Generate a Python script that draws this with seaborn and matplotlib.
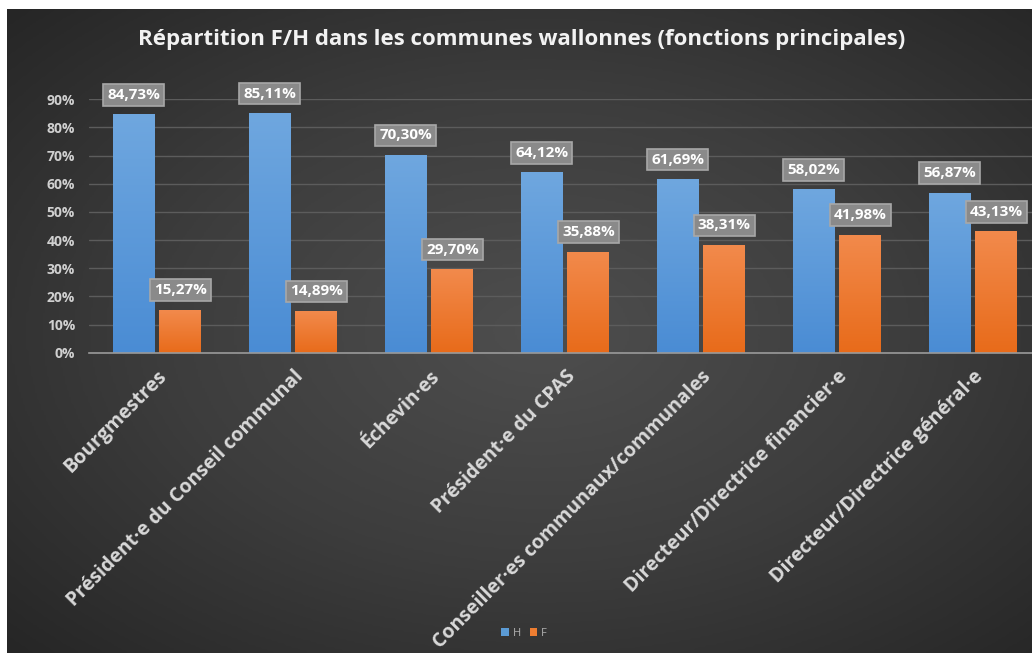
import numpy as np
import pandas as pd
import matplotlib
matplotlib.use("Agg")
import matplotlib.pyplot as plt
import seaborn as sns
from matplotlib.colors import LinearSegmentedColormap
from matplotlib.patches import Patch

categories = ["Bourgmestres", "Président·e du Conseil communal", "Échevin·es",
              "Président·e du CPAS", "Conseiller·es communaux/communales",
              "Directeur/Directrice financier·e", "Directeur/Directrice général·e"]
h_values = [84.73, 85.11, 70.30, 64.12, 61.69, 58.02, 56.87]
f_values = [15.27, 14.89, 29.70, 35.88, 38.31, 41.98, 43.13]
y_ticks = [0, 10, 20, 30, 40, 50, 60, 70, 80, 90]
series = ["H", "F"]
title = "Répartition F/H dans les communes wallonnes (fonctions principales)"

df = pd.DataFrame({
    "cat": categories * 2,
    "serie": ["H"] * len(categories) + ["F"] * len(categories),
    "val": h_values + f_values,
})

sns.set_theme(style="dark")
plt.rcParams["font.family"] = ["Open Sans", "DejaVu Sans"]

W, H = 1032, 653
fig = plt.figure(figsize=(W / 100, H / 100), dpi=100, facecolor="white")

# background radial gradient panel
bg = fig.add_axes([7 / W, 0, 1 - 7 / W, (H - 9) / H], zorder=0)
yy, xx = np.mgrid[0:1:300j, 0:1:480j]
r = np.sqrt(((xx - 0.52) / 0.75) ** 2 + ((yy - 0.5) / 0.75) ** 2)
r = np.clip(r / r.max(), 0, 1)
bgcmap = LinearSegmentedColormap.from_list("bg", ["#4e4e4e", "#3d3d3d", "#262626"])
bg.imshow(r, cmap=bgcmap, aspect="auto", extent=[0, 1, 0, 1], interpolation="bilinear")
bg.set_axis_off()

ax = fig.add_axes([89 / W, 300.3 / H, 952 / W, (352.7 - 99.3) / H], zorder=1)
ax.patch.set_alpha(0)

colors = {"H": "#5B9BD5", "F": "#ED7D31"}
sns.barplot(data=df, x="cat", y="val", hue="serie", hue_order=series,
            palette=colors, width=0.686, gap=0.1, ax=ax, legend=False,
            saturation=1, zorder=3, edgecolor="none", linewidth=0)

ax.set_ylim(0, 90)
ax.set_xlim(-0.5, len(categories) - 0.5)
ax.set_yticks(y_ticks)
ax.set_yticklabels([f"{t}%" for t in y_ticks], fontsize=10, fontweight="bold",
                   color="#d0d0d0")
ax.yaxis.grid(True, color="#5c5c5c", linewidth=1)
ax.xaxis.grid(False)
for s in ["top", "right", "left"]:
    ax.spines[s].set_visible(False)
ax.spines["bottom"].set_color("#9a9a9a")
ax.spines["bottom"].set_linewidth(1.2)
ax.spines["bottom"].set_zorder(5)
ax.tick_params(axis="both", length=0, pad=10)
ax.set_xlabel("")
ax.set_ylabel("")
ax.set_xticks(range(len(categories)))
ax.set_xticklabels(categories, rotation=45, ha="right", rotation_mode="anchor",
                   fontsize=14, fontweight="bold", color="#d9d9d9")
ax.tick_params(axis="x", pad=10)

grad = {"H": ("#6FA7DF", "#4A8CD4"), "F": ("#F28A4C", "#E86B1A")}
edge = {"H": "#4a80b8", "F": "#c8641f"}
vals = {"H": h_values, "F": f_values}
grad_img = np.linspace(0, 1, 256).reshape(-1, 1)
n = len(categories)
for i, p in enumerate(ax.patches[: 2 * n]):
    s = series[i // n]
    x0, y0 = p.get_x(), p.get_y()
    w, h = p.get_width(), p.get_height()
    cm = LinearSegmentedColormap.from_list("g" + s, list(grad[s]))
    im = ax.imshow(grad_img, cmap=cm, aspect="auto",
                   extent=[x0, x0 + w, y0, y0 + h], zorder=3.5,
                   interpolation="bilinear")
    im.set_clip_path(p)
    v = vals[s][i % n]
    ax.annotate(f"{v:.2f}%".replace(".", ","), xy=(x0 + w / 2, y0 + h),
                xytext=(0, 14), textcoords="offset points", ha="center",
                va="center", fontsize=11, fontweight="bold", color="white",
                zorder=6, annotation_clip=False,
                bbox=dict(boxstyle="square,pad=0.25", fc="#8a8a8a",
                          ec="#a8a8a8", lw=1.2))
ax.set_aspect("auto")

fig.text(522 / W, 1 - 40 / H, title, ha="center", va="center", fontsize=16,
         fontweight="bold", color="#f2f2f2")

handles = [Patch(facecolor=colors[s], edgecolor="none", label=s) for s in series]
leg = fig.legend(handles=handles, loc="center", bbox_to_anchor=(524 / W, 1 - 633 / H),
                 ncol=2, frameon=False, fontsize=8, handlelength=0.7,
                 handleheight=0.7, handletextpad=0.3, columnspacing=0.8,
                 labelcolor="#b0b0b0")

fig.savefig("out.png", dpi=100, facecolor="white")
